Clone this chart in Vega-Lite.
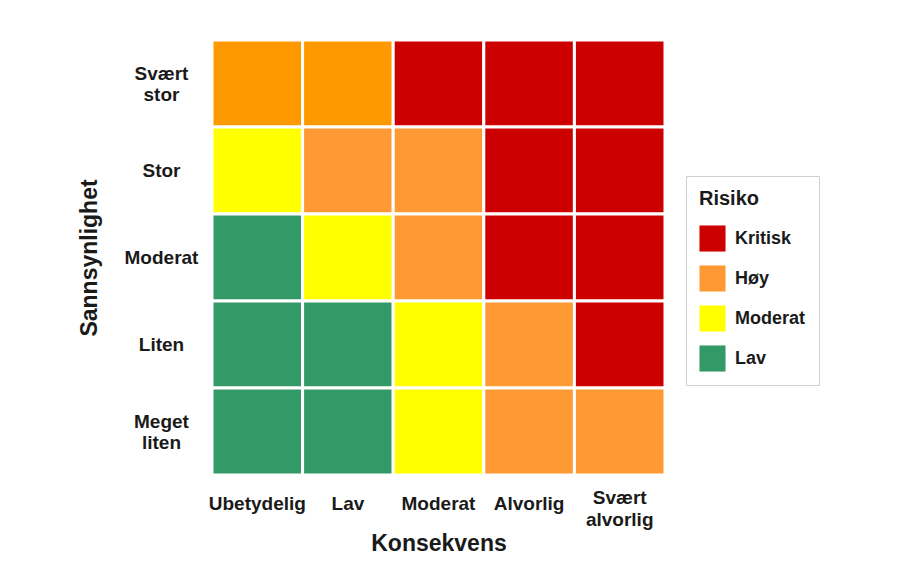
{
  "$schema": "https://vega.github.io/schema/vega-lite/v6.json",
  "autosize": "none",
  "width": 453,
  "height": 435,
  "padding": {"left": 212, "top": 40, "right": 232, "bottom": 94},
  "background": "white",
  "config": {
    "font": "Liberation Sans",
    "view": {"stroke": "#c8c8c8", "strokeWidth": 1}
  },
  "data": {
    "values": [
      {"konsekvens": "Ubetydelig", "sannsynlighet": "Svært stor", "risiko": "Høy (sterk)"},
      {"konsekvens": "Lav", "sannsynlighet": "Svært stor", "risiko": "Høy (sterk)"},
      {"konsekvens": "Moderat", "sannsynlighet": "Svært stor", "risiko": "Kritisk"},
      {"konsekvens": "Alvorlig", "sannsynlighet": "Svært stor", "risiko": "Kritisk"},
      {"konsekvens": "Svært alvorlig", "sannsynlighet": "Svært stor", "risiko": "Kritisk"},
      {"konsekvens": "Ubetydelig", "sannsynlighet": "Stor", "risiko": "Moderat"},
      {"konsekvens": "Lav", "sannsynlighet": "Stor", "risiko": "Høy"},
      {"konsekvens": "Moderat", "sannsynlighet": "Stor", "risiko": "Høy"},
      {"konsekvens": "Alvorlig", "sannsynlighet": "Stor", "risiko": "Kritisk"},
      {"konsekvens": "Svært alvorlig", "sannsynlighet": "Stor", "risiko": "Kritisk"},
      {"konsekvens": "Ubetydelig", "sannsynlighet": "Moderat", "risiko": "Lav"},
      {"konsekvens": "Lav", "sannsynlighet": "Moderat", "risiko": "Moderat"},
      {"konsekvens": "Moderat", "sannsynlighet": "Moderat", "risiko": "Høy"},
      {"konsekvens": "Alvorlig", "sannsynlighet": "Moderat", "risiko": "Kritisk"},
      {"konsekvens": "Svært alvorlig", "sannsynlighet": "Moderat", "risiko": "Kritisk"},
      {"konsekvens": "Ubetydelig", "sannsynlighet": "Liten", "risiko": "Lav"},
      {"konsekvens": "Lav", "sannsynlighet": "Liten", "risiko": "Lav"},
      {"konsekvens": "Moderat", "sannsynlighet": "Liten", "risiko": "Moderat"},
      {"konsekvens": "Alvorlig", "sannsynlighet": "Liten", "risiko": "Høy"},
      {"konsekvens": "Svært alvorlig", "sannsynlighet": "Liten", "risiko": "Kritisk"},
      {"konsekvens": "Ubetydelig", "sannsynlighet": "Meget liten", "risiko": "Lav"},
      {"konsekvens": "Lav", "sannsynlighet": "Meget liten", "risiko": "Lav"},
      {"konsekvens": "Moderat", "sannsynlighet": "Meget liten", "risiko": "Moderat"},
      {"konsekvens": "Alvorlig", "sannsynlighet": "Meget liten", "risiko": "Høy"},
      {"konsekvens": "Svært alvorlig", "sannsynlighet": "Meget liten", "risiko": "Høy"}
    ]
  },
  "mark": {"type": "rect", "stroke": "white", "strokeWidth": 3},
  "encoding": {
    "x": {
      "field": "konsekvens",
      "type": "nominal",
      "sort": ["Ubetydelig", "Lav", "Moderat", "Alvorlig", "Svært alvorlig"],
      "scale": {"paddingInner": 0, "paddingOuter": 0},
      "axis": {
        "title": "Konsekvens",
        "titleFontSize": 23,
        "titleFontWeight": "bold",
        "titleColor": "#1a1a1a",
        "titlePadding": 3,
        "labelAngle": 0,
        "labelFontSize": 19,
        "labelFontWeight": "bold",
        "labelColor": "#1a1a1a",
        "labelBaseline": "middle",
        "labelLineHeight": 22,
        "labelPadding": {"condition": {"test": "datum.value == 'Svært alvorlig'", "value": 22}, "value": 28},
        "labelExpr": "datum.value == 'Svært alvorlig' ? ['Svært', 'alvorlig'] : datum.value",
        "ticks": false,
        "tickSize": 0,
        "domain": false,
        "labelLimit": 200
      }
    },
    "y": {
      "field": "sannsynlighet",
      "type": "nominal",
      "sort": ["Svært stor", "Stor", "Moderat", "Liten", "Meget liten"],
      "scale": {"paddingInner": 0, "paddingOuter": 0},
      "axis": {
        "title": "Sannsynlighet",
        "titleFontSize": 23,
        "titleFontWeight": "bold",
        "titleColor": "#1a1a1a",
        "titlePadding": 23,
        "labelFontSize": 19,
        "labelFontWeight": "bold",
        "labelColor": "#1a1a1a",
        "labelAlign": "center",
        "labelBaseline": "middle",
        "labelLineHeight": 21,
        "labelPadding": 51,
        "labelOffset": {"condition": {"test": "datum.value == 'Svært stor' || datum.value == 'Meget liten'", "value": -10}, "value": 0},
        "labelExpr": "datum.value == 'Svært stor' ? ['Svært', 'stor'] : datum.value == 'Meget liten' ? ['Meget', 'liten'] : datum.value",
        "ticks": false,
        "tickSize": 0,
        "domain": false,
        "labelLimit": 200
      }
    },
    "color": {
      "field": "risiko",
      "type": "nominal",
      "scale": {
        "domain": ["Kritisk", "Høy", "Moderat", "Lav", "Høy (sterk)"],
        "range": ["#CC0000", "#FF9933", "#FFFF00", "#339966", "#FF9900"]
      },
      "legend": {
        "title": "Risiko",
        "values": ["Kritisk", "Høy", "Moderat", "Lav"],
        "orient": "none",
        "legendX": 474,
        "legendY": 136,
        "padding": 13,
        "strokeColor": "#d0d0d0",
        "fillColor": "white",
        "titleFontSize": 20,
        "titleFontWeight": "bold",
        "titleColor": "#1a1a1a",
        "titlePadding": 16,
        "labelFontSize": 18,
        "labelFontWeight": "bold",
        "labelColor": "#1a1a1a",
        "labelOffset": 9,
        "symbolType": "square",
        "symbolSize": 680,
        "symbolStrokeWidth": 0,
        "symbolOpacity": 1,
        "rowPadding": 13
      }
    }
  }
}
